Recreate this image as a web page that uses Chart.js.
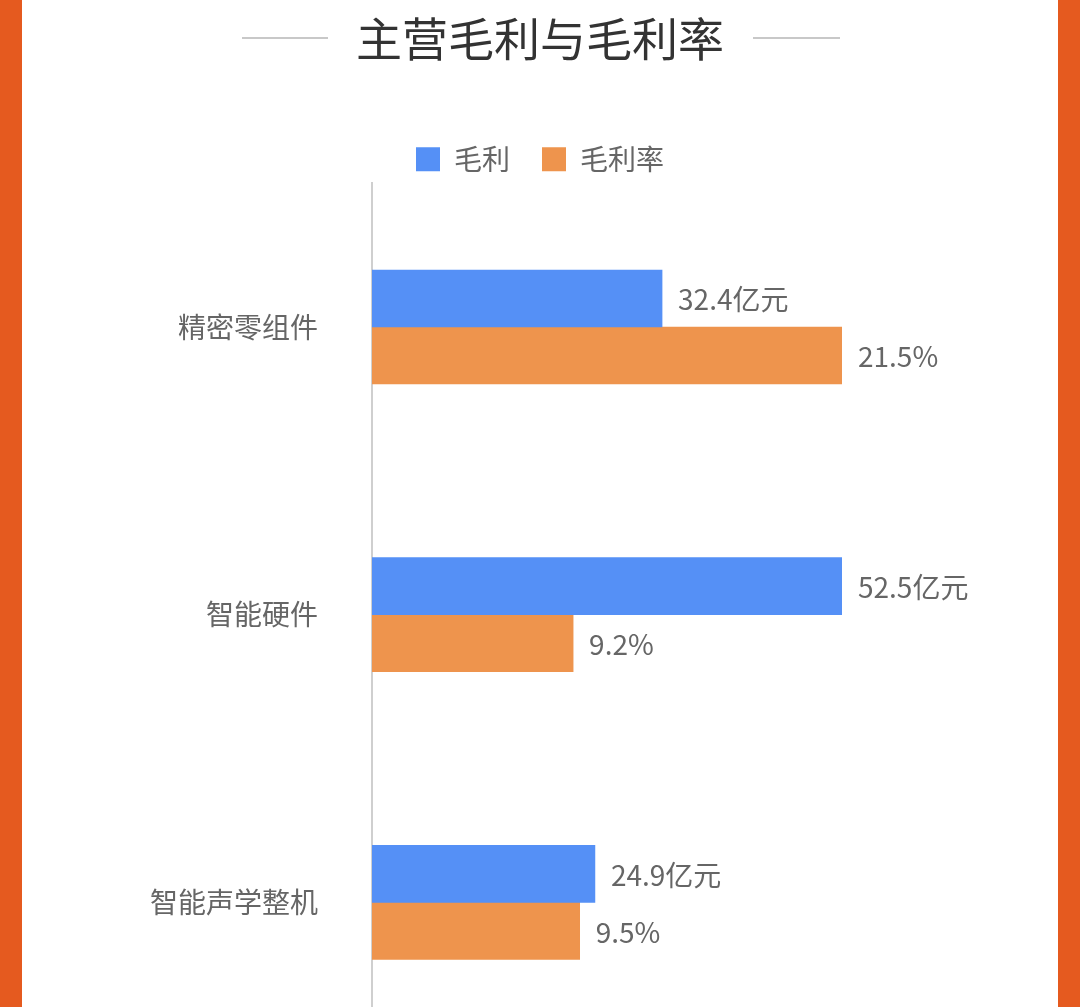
<!DOCTYPE html>
<html>

<head>
    <meta charset="utf-8">
    <title>主营毛利与毛利率</title>
    <style>
        html, body { margin: 0; padding: 0; overflow: hidden; background: #e55a1f; }
        #wrap { position: absolute; left: 22px; top: 0; width: 1036px; height: 1007px; background: #fff; }
        #box { position: absolute; left: 0; top: 0; width: 1080px; height: 1117px; }
    </style>
</head>

<body>
    <div id="wrap"></div>
    <div id="box"><canvas id="myChart" width="1080" height="1117"></canvas></div>
    <script src="https://cdn.jsdelivr.net/npm/chart.js@4.4.0/dist/chart.umd.min.js"></script>

    <script type="text/javascript">
        const categories = ['精密零组件', '智能硬件', '智能声学整机'];
        const grossProfit = [32.4, 52.5, 24.9];   // 亿元
        const grossMargin = [21.5, 9.2, 9.5];     // %
        const seriesNames = ['毛利', '毛利率'];
        const suffixes = ['亿元', '%'];

        const FONT = '"Noto Sans CJK SC", "Noto Sans", sans-serif';

        // value labels right of each bar
        const valueLabels = {
            id: 'valueLabels',
            afterDatasetsDraw(chart) {
                const ctx = chart.ctx;
                ctx.save();
                ctx.font = '28px ' + FONT;
                ctx.fillStyle = '#666';
                ctx.textAlign = 'left';
                ctx.textBaseline = 'middle';
                chart.data.datasets.forEach((ds, i) => {
                    chart.getDatasetMeta(i).data.forEach((bar, j) => {
                        ctx.fillText(ds.data[j] + suffixes[i], bar.x + 16, bar.y + 1);
                    });
                });
                ctx.restore();
            }
        };

        // grey lines either side of the title
        const titleLines = {
            id: 'titleLines',
            afterDraw(chart) {
                const ctx = chart.ctx;
                ctx.save();
                ctx.strokeStyle = '#c8c8c8';
                ctx.lineWidth = 2;
                ctx.beginPath();
                ctx.moveTo(242, 38); ctx.lineTo(328, 38);
                ctx.moveTo(753, 38); ctx.lineTo(840, 38);
                ctx.stroke();
                ctx.restore();
            }
        };

        var ctx = document.getElementById('myChart').getContext('2d');
        var chart = new Chart(ctx, {
            type: 'bar',
            data: {
                labels: categories,
                datasets: [{
                    label: seriesNames[0],
                    data: grossProfit,
                    backgroundColor: '#5590f6',
                    xAxisID: 'x'
                }, {
                    label: seriesNames[1],
                    data: grossMargin,
                    backgroundColor: '#ee944d',
                    xAxisID: 'x2'
                }]
            },
            plugins: [valueLabels, titleLines],
            options: {
                indexAxis: 'y',
                responsive: false,
                animation: false,
                devicePixelRatio: 1,
                barThickness: 57,
                layout: { padding: { left: 0, right: 0, top: 0, bottom: 24 } },
                scales: {
                    x: { display: false, min: 0, max: 52.5 },
                    x2: { display: false, min: 0, max: 21.5 },
                    y: {
                        afterFit(scale) { scale.width = 372; },
                        grid: { display: false, drawTicks: false },
                        border: { display: true, color: '#cfcfcf', width: 2 },
                        ticks: {
                            padding: 54,
                            color: '#666',
                            font: { family: FONT, size: 28 }
                        }
                    },
                    // empty right-hand axis: keeps room for the value labels
                    yRight: {
                        type: 'category',
                        axis: 'y',
                        position: 'right',
                        afterFit(scale) { scale.width = 238; },
                        grid: { display: false, drawTicks: false },
                        border: { display: false },
                        ticks: { display: false }
                    }
                },
                plugins: {
                    tooltip: { enabled: false },
                    title: {
                        display: true,
                        text: '主营毛利与毛利率',
                        color: '#333',
                        font: { family: FONT, size: 46, weight: 'normal' },
                        padding: { top: 11, bottom: 47 }
                    },
                    legend: {
                        display: true,
                        labels: {
                            boxWidth: 24,
                            boxHeight: 24,
                            padding: 32,
                            color: '#666',
                            font: { family: FONT, size: 28 }
                        }
                    }
                }
            }
        });
    </script>
</body>

</html>
